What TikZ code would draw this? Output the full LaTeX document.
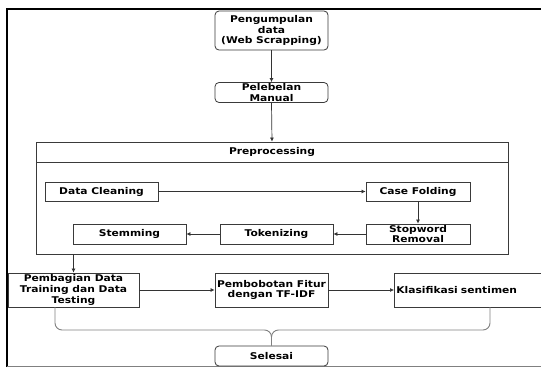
\documentclass[tikz,border=0pt]{standalone}
\usepackage{fontspec}
\setmainfont{DejaVu Sans}[FakeStretch=1.15]
\usetikzlibrary{arrows.meta}
\definecolor{edge}{HTML}{3A3A3A}
\definecolor{conn}{HTML}{333333}
\tikzset{
  box/.style={draw=edge, line width=0.8pt, fill=white, inner sep=1pt, align=center,
    font=\fontsize{9.3}{10.8}\selectfont\bfseries},
  rbox/.style={box, rounded corners=4pt},
  arr/.style={draw=conn, line width=0.7pt, -{Latex[length=4pt,width=4pt]}},
  link/.style={draw=gray, line width=0.9pt, rounded corners=7pt}
}
\begin{document}
\begin{tikzpicture}[x=1pt,y=-1pt]
\useasboundingbox (0,0) rectangle (541,367);
\clip (0,0) rectangle (541,367);
\fill[white] (0,0) rectangle (541,367);
% frame
\draw[line width=2.4pt, black] (7,367) -- (7,9) -- (541,9);
\draw[line width=1pt, gray] (7,366.5) -- (541,366.5);

% top nodes
\node[rbox, minimum width=113, minimum height=39] (peng) at (271.5,30.5) {Pengumpulan\\data\\(Web Scrapping)};
\node[rbox, minimum width=113, minimum height=19] (pel) at (271.5,92.5) {Pelebelan\\Manual};

% preprocessing container
\node[draw=edge, line width=0.8pt, minimum width=472, minimum height=112, inner sep=0pt] (prep) at (272,198) {};
\draw[edge, line width=0.8pt] (36,162) -- (508,162);
\node[font=\fontsize{9.3}{10.8}\selectfont\bfseries] (preptitle) at (272,152) {Preprocessing};

\node[box, minimum width=113, minimum height=19] (dc) at (101.5,191.5) {Data Cleaning};
\node[box, minimum width=104, minimum height=19] (cf) at (418,191.5) {Case Folding};
\node[box, minimum width=104, minimum height=20] (sw) at (418,234) {Stopword\\Removal};
\node[box, minimum width=113, minimum height=20] (tok) at (276.5,234) {Tokenizing};
\node[box, minimum width=113, minimum height=20] (stem) at (129.5,234) {Stemming};

% lower row
\node[box, minimum width=131, minimum height=34] (pemb) at (73.5,290) {Pembagian Data\\Training dan Data\\Testing};
\node[box, minimum width=113, minimum height=34] (pbf) at (271.5,290) {Pembobotan Fitur\\dengan TF-IDF};
\node[box, anchor=west, minimum height=34, inner xsep=2pt, text width=166pt, align=left] (kla) at (394,290) {Klasifikasi sentimen};
\node[rbox, minimum width=113, minimum height=20] (sel) at (271.5,356) {Selesai};

% connectors
\draw[arr] (peng.south) -- (pel.north);
\draw[arr] (pel.south) -- (prep.north);
\draw[arr] (dc.east) -- (cf.west);
\draw[arr] (cf.south) -- (sw.north);
\draw[arr] (sw.west) -- (tok.east);
\draw[arr] (tok.west) -- (stem.east);
\draw[arr] (pemb.north |- prep.south) -- (pemb.north);
\draw[arr] (pemb.east) -- (pbf.west);
\draw[arr] (pbf.east) -- (kla.west);

\coordinate (mid) at (271.5,330);
\draw[link] (55,307) |- (mid) -- (sel.north);
\draw[link] (490,307) |- (mid) -- (sel.north);
\end{tikzpicture}
\end{document}
